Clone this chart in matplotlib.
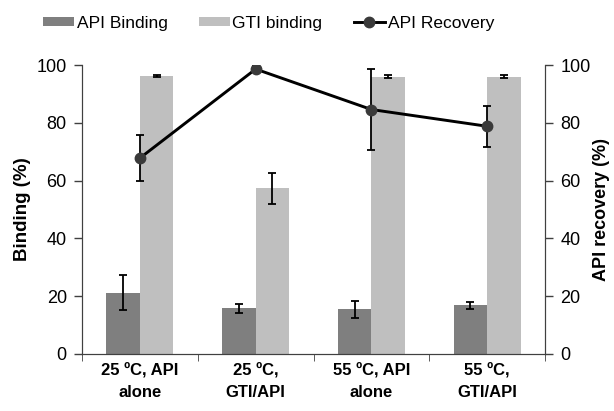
import matplotlib.pyplot as plt
from matplotlib.lines import Line2D
import numpy as np

plt.rcParams['font.family'] = ['Liberation Sans', 'DejaVu Sans']

categories = ["25 ºC, API\nalone", "25 ºC,\nGTI/API", "55 ºC, API\nalone", "55 ºC,\nGTI/API"]
api_binding = [21.2, 15.8, 15.5, 16.8]
api_binding_err = [6.0, 1.6, 3.0, 1.3]
gti_binding = [96.2, 57.3, 96.0, 96.0]
gti_binding_err = [0.3, 5.3, 0.4, 0.4]
api_recovery = [67.8, 98.6, 84.6, 78.8]
api_recovery_err = [8.0, 1.0, 14.0, 7.0]

fig = plt.figure(figsize=(6.14, 4.11), dpi=100)
ax = fig.add_axes([0.1336, 0.1387, 0.7541, 0.7031])
ax2 = ax.twinx()

x = np.arange(len(categories))
w = 0.29
err_kw = dict(ecolor="black", elinewidth=1.3, capsize=3, capthick=1.3)
b1 = ax.bar(x - w / 2, api_binding, w, color="#7f7f7f", yerr=api_binding_err,
            error_kw=err_kw, label="API Binding")
b2 = ax.bar(x + w / 2, gti_binding, w, color="#bfbfbf", yerr=gti_binding_err,
            error_kw=err_kw, label="GTI binding")
ax2.errorbar(x, api_recovery, yerr=api_recovery_err, color="black", lw=2.1,
             marker="o", ms=7.5, mfc="#3a3a3a", mec="#3a3a3a",
             ecolor="black", elinewidth=1.3, capsize=3, capthick=1.3)
l1 = Line2D([], [], color="black", lw=2.1, marker="o", ms=7.5,
            mfc="#3a3a3a", mec="#3a3a3a", label="API Recovery")

for a in (ax, ax2):
    a.set_ylim(0, 100)
    a.set_yticks(range(0, 101, 20))
    a.tick_params(axis="y", direction="out", length=6, width=1, labelsize=13,
                  color="#404040", pad=5)
    a.spines["top"].set_visible(False)
    for s in ("left", "right", "bottom"):
        a.spines[s].set_color("#404040")
ax.set_xlim(-0.5, len(categories) - 0.5)
ax.set_xticks(x)
ax.set_xticklabels(categories, fontsize=12, fontweight="bold", linespacing=1.6)
ax.tick_params(axis="x", length=0, pad=6)
ax.set_xticks(np.arange(len(categories) + 1) - 0.5, minor=True)
ax.tick_params(axis="x", which="minor", length=5, color="#404040", direction="out")

ax.set_ylabel("Binding (%)", fontsize=13.5, fontweight="bold", labelpad=4)
ax2.set_ylabel("API recovery (%)", fontsize=13, fontweight="bold", labelpad=2)

fig.legend(handles=[b1, b2, l1], loc="upper center", bbox_to_anchor=(0.437, 1.0),
           ncol=3, frameon=False, fontsize=12.5, handlelength=1.8, handleheight=0.5,
           columnspacing=1.8, handletextpad=0.15)

fig.savefig("out.png", dpi=100)
